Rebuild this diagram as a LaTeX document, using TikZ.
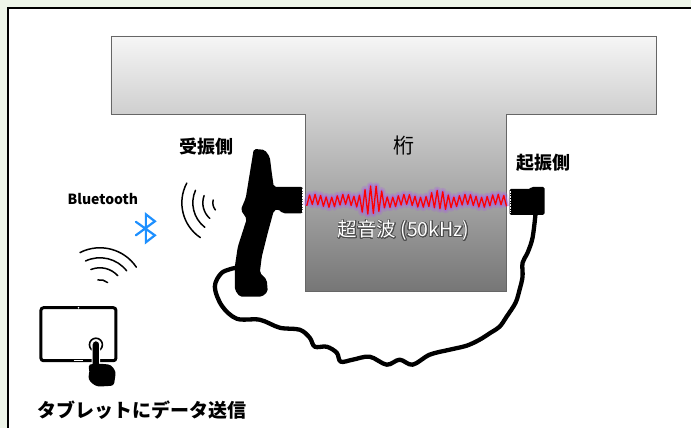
\documentclass[tikz,border=0pt]{standalone}
\usepackage{fontspec}
\usepackage{contour}
\newfontfamily\jp{Noto Sans CJK JP}
\contourlength{0.7pt}

\definecolor{pagegreen}{RGB}{238,245,233}
\definecolor{girdtop}{RGB}{246,246,246}
\definecolor{girdbot}{RGB}{118,118,118}
\definecolor{btblue}{RGB}{30,144,255}
\definecolor{glow}{RGB}{170,90,230}

\tikzset{
  tag/.style={font=\jp\bfseries\fontsize{18}{18}\selectfont},
  radio/.style={line width=1.5pt, line cap=round},
  cable/.style={line width=4.3pt, line join=round, line cap=round},
}

\begin{document}
\begin{tikzpicture}[x=1pt,y=-1pt]
% page and frame
\fill[pagegreen] (0,0) rectangle (692,428);
\fill[white] (8,8) rectangle (692,428);
\draw[line width=1.2pt] (8,428) -- (8,8) -- (692,8);

% girder (T section)
\shade[top color=girdtop, bottom color=girdbot, draw=black!60, line width=.8pt]
  (111,36) -- (657,36) -- (657,114) -- (507,114) -- (507,292)
  -- (306,292) -- (306,114) -- (111,114) -- cycle;
\node[font=\jp\fontsize{21}{21}\selectfont] (keta) at (404,146) {桁};

% ultrasonic wave through the web
\foreach \w/\c/\o in {8/glow/.25, 4.5/glow/.5, 1.3/red/1}
  \draw[\c, line width=\w, opacity=\o, line join=round]
    plot[domain=0:200, samples=73]
    ({307+\x}, {201 + (5 + 1.5*sin(53*\x) + 9*max(0,1-((\x-65)/14)^2)
      + 4*max(0,1-((\x-133)/12)^2))*cos(64.8*\x)});
\node[text=white, font=\jp\fontsize{19.5}{19.5}\selectfont] (wavelbl) at (404,231)
  {\contour{black!70}{超音波 (50kHz)}};

% receiver
\fill[rounded corners=2pt] (254,149) -- (265,150) -- (270,157) -- (272,173)
  -- (274,187) -- (303,187) -- (303,213.5) -- (283,213.5) -- (278,209)
  -- (274,211) -- (268,233) -- (262,257) -- (260,273) -- (267,280) -- (268,292)
  -- (262,297) -- (240,297) -- (235,290) -- (235,267) -- (238,247) -- (247,219)
  -- (241,210) -- (246,198) -- cycle;
\draw[white, densely dotted, line width=.6pt] (302.5,189) -- (302.5,212);

% exciter
\fill[rounded corners=1.5pt] (510,189) -- (531,189) -- (532,187) -- (545,187)
  -- (545,215) -- (510,215) -- cycle;
\draw[white, densely dotted, line width=.6pt] (510.5,191) -- (510.5,213);

% cable between the two
\coordinate (rxend) at (236,268);
\coordinate (txend) at (536,214);
\draw[cable] plot[smooth, tension=.55] coordinates {(rxend) (222,273) (215,287)
  (222,306) (237,319) (260,320) (280,328) (300,330) (310,338) (315,347) (327,347)
  (337,353) (341,362) (353,360) (370,357) (387,365) (400,360) (413,365) (430,355)
  (450,350) (467,346) (480,340) (491,333) (500,327) (507,317) (516,303) (520,290)
  (523,277) (523,263) (528,253) (533,238) (txend)};

% radio waves
\foreach \r/\a/\b in {42/124/208, 31/128/204, 21/132/200, 11/140/195}
  \draw[radio] (224,203) ++(\a:\r) arc (\a:\b:\r);
\foreach \r/\a/\b in {44/-117/-34, 34/-115/-38, 24/-112/-42, 12/-100/-50}
  \draw[radio] (100,292) ++(\a:\r) arc (\a:\b:\r);

% bluetooth mark
\draw[btblue, line width=2.2pt, line cap=round] (136,222) -- (155,235.5) -- (146,242.5)
  -- (146,214.5) -- (155,221.5) -- (136,235.5);

% tablet and hand
\draw[line width=3pt, rounded corners=2.5pt] (41,308) rectangle (116,361);
\fill[white] (78.5,308) circle (0.9);
\draw[white, line width=1pt] (74,361) -- (83,361);
\draw[line width=1.6pt] (96,345) circle (6.5);
\filldraw[draw=white, line width=1pt, rounded corners=3.5pt] (92.3,341) rectangle (99.7,372);
\fill[rounded corners=3pt] (88,366) -- (92,364) -- (100,364) -- (111,365) -- (116,372)
  -- (114,386) -- (97,387) -- (90,382) -- (88,377) -- (90,372) -- cycle;

% labels
\node[tag] (rxlbl) at (207,147) {受振側};
\node[tag] (txlbl) at (544,163) {起振側};
\node[tag, font=\jp\bfseries\fontsize{14}{14}\selectfont] (btlbl) at (103,199) {Bluetooth};
\node[tag, font=\jp\bfseries\fontsize{19}{19}\selectfont] (tablbl) at (142,411) {タブレットにデータ送信};
\end{tikzpicture}
\end{document}
